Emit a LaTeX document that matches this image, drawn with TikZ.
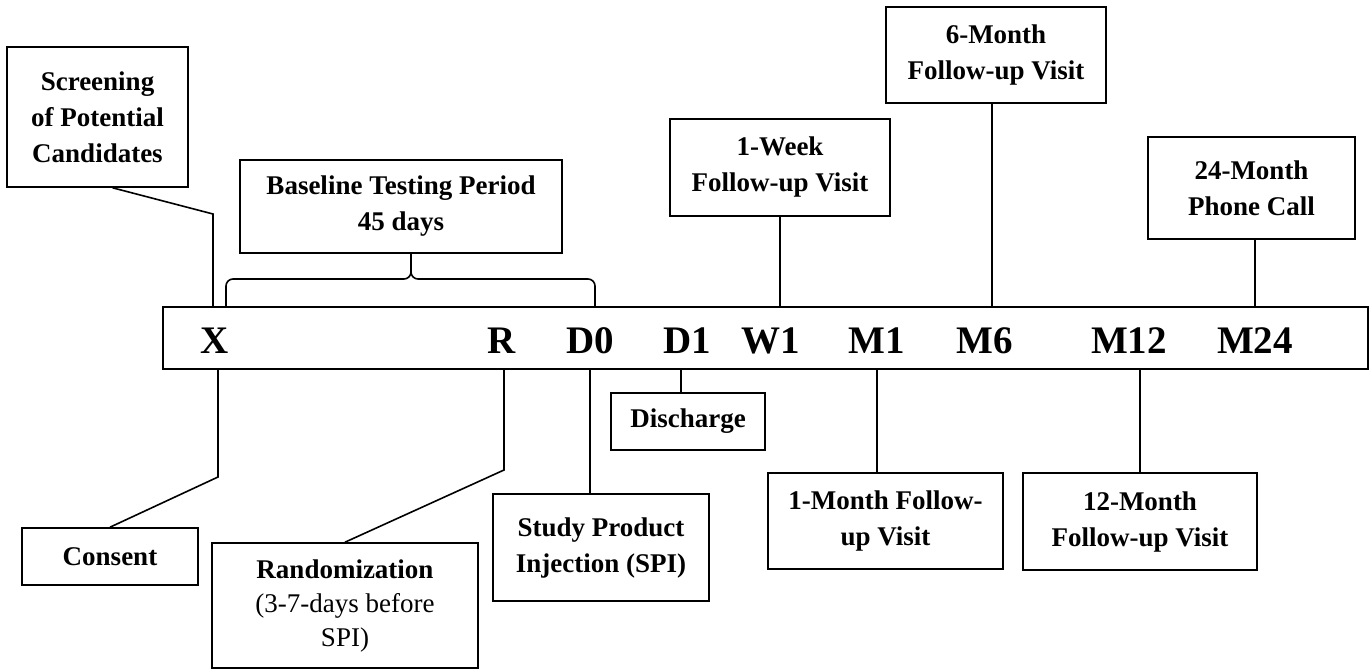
\documentclass[tikz,border=0pt]{standalone}
\usepackage{fontspec}
\setmainfont{Liberation Serif}
\usetikzlibrary{positioning,calc}

\begin{document}
\begin{tikzpicture}[x=1pt, y=-1pt, line width=1.6pt, black,
    box/.style={rectangle, draw=black, align=center, inner sep=0pt, font=\bfseries\fontsize{27}{36}\selectfont},
    tick/.style={anchor=base, font=\bfseries\fontsize{39}{40}\selectfont}]
    \useasboundingbox (0,0) rectangle (1369,670);

    %Timeline
    \node (bar) [rectangle, draw=black, minimum width=1205, minimum height=62, inner sep=0pt] at (765.5,338) {};

    \node (labX)   [tick] at (215,353)  {X};
    \node (labR)   [tick] at (502,353)  {R};
    \node (labD0)  [tick] at (590,353)  {D0};
    \node (labD1)  [tick] at (687,353)  {D1};
    \node (labW1)  [tick] at (771,353)  {W1};
    \node (labM1)  [tick] at (877,353)  {M1};
    \node (labM6)  [tick] at (985,353)  {M6};
    \node (labM12) [tick] at (1129,353) {M12};
    \node (labM24) [tick] at (1255,353) {M24};

    %Boxes above
    \node (screening) [box, minimum width=181, minimum height=140] at (97.5,117)  {Screening\\of Potential\\Candidates};
    \node (baseline)  [box, minimum width=322, minimum height=93]  at (401,206.5) {Baseline Testing Period\\45 days};
    \node (week1)     [box, minimum width=220, minimum height=97]  at (780,167.5) {1-Week\\Follow-up Visit};
    \node (month6)    [box, minimum width=220, minimum height=96]  at (996,55)    {6-Month\\Follow-up Visit};
    \node (month24)   [box, minimum width=207, minimum height=102] at (1251.5,188) {24-Month\\Phone Call};

    %Boxes below
    \node (consent)   [box, minimum width=176, minimum height=57]  at (110,556.5) {Consent};
    \node (random)    [box, minimum width=266, minimum height=125, font=\fontsize{27}{34}\selectfont] at (345,605.5) {\textbf{Randomization}\\(3-7-days before\\SPI)};
    \node (spi)       [box, minimum width=216, minimum height=107] at (601,547.5) {Study Product\\Injection (SPI)};
    \node (discharge) [box, minimum width=154, minimum height=57]  at (688,421.5) {Discharge};
    \node (month1)    [box, minimum width=235, minimum height=96]  at (885.5,521) {1-Month Follow-\\up Visit};
    \node (month12)   [box, minimum width=234, minimum height=97]  at (1140,521.5) {12-Month\\Follow-up Visit};

    \coordinate (scrbend) at (213,214);
    \coordinate (conbend) at (218,477);
    \coordinate (ranbend) at (504,470);
    \coordinate (dispt)   at (681,393);
    \coordinate (m6pt)    at (992,103);

    %Lines
    \draw (screening.-78) -- (scrbend) -- (scrbend |- bar.north);
    \draw (conbend |- bar.south) -- (conbend) -- (consent.north);
    \draw (ranbend |- bar.south) -- (ranbend) -- (random.north);
    \draw (labD0 |- bar.south)   -- (labD0 |- spi.north);
    \draw (dispt |- bar.south)   -- (dispt);
    \draw (week1.south)   -- (week1.south |- bar.north);
    \draw (m6pt)          -- (m6pt |- bar.north);
    \draw (labM24 |- month24.south) -- (labM24 |- bar.north);
    \draw (labM1 |- bar.south)   -- (labM1 |- month1.north);
    \draw (month12.north) -- (month12.north |- bar.south);

    %Brace
    \draw[rounded corners=7] (226,307) -- (226,279) -- (411,279) -- (411,253);
    \draw[rounded corners=7] (595,307) -- (595,279) -- (411,279) -- (411,253);
\end{tikzpicture}
\end{document}
